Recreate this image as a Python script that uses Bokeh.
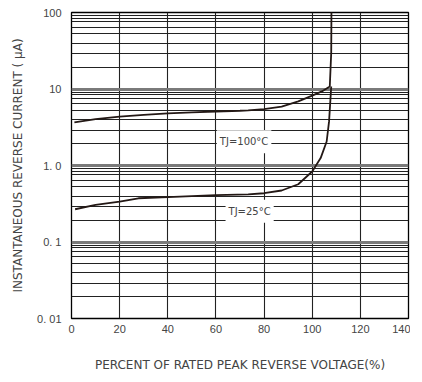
from bokeh.plotting import figure
from bokeh.models import FixedTicker, Label
from bokeh.embed import file_html
from bokeh.resources import INLINE

# ---- data ----
x_100 = [1.2, 10, 20, 30, 40, 50, 60, 70, 73.4, 80, 87.3, 94.2, 100, 104, 107.3, 107.9, 108.0]
y_100 = [3.66, 4.05, 4.35, 4.6, 4.8, 4.95, 5.08, 5.2, 5.25, 5.46, 5.9, 6.9, 8.2, 9.3, 10.8, 30, 120]

x_25 = [1.5, 10, 20, 27.8, 40, 60, 73.4, 80, 87.3, 94.2, 100, 103.5, 106, 107, 107.6, 107.9]
y_25 = [0.268, 0.305, 0.338, 0.373, 0.385, 0.41, 0.42, 0.434, 0.471, 0.569, 0.834, 1.25, 2.06, 3.77, 7.6, 10.8]

x_ticks = [0, 20, 40, 60, 80, 100, 120, 140]
y_decades = [0.01, 0.1, 1, 10, 100]
y_tick_labels = ["0. 01", "0. 1", "1. 0", "10", "100"]
grid_multipliers = [1.92, 2.89, 3.99, 5.24, 6.46, 7.52, 8.47, 9.08]

label_100 = ("TJ=100°C", 71.7, 2.05)
label_25 = ("TJ=25°C", 74.0, 0.252)

x_title = "PERCENT OF RATED PEAK REVERSE VOLTAGE(%)"
y_title = "INSTANTANEOUS REVERSE CURRENT ( μA)"

# ---- figure ----
p = figure(width=410, height=376, x_range=(0, 140), y_range=(0.01, 100),
           y_axis_type="log", output_backend="svg", toolbar_location=None,
           min_border_left=71, min_border_right=2, min_border_top=12, min_border_bottom=58)

p.outline_line_color = "black"
p.outline_line_width = 1.3
p.background_fill_color = "white"
p.border_fill_color = "white"

minor = [d * m for d in y_decades[:-1] for m in grid_multipliers]
yt = FixedTicker(ticks=y_decades, minor_ticks=minor)
p.yaxis.ticker = yt
p.ygrid.ticker = yt
p.ygrid.grid_line_color = "#7a7a7a"
p.ygrid.grid_line_width = 3
p.ygrid.minor_grid_line_color = "#222222"
p.ygrid.minor_grid_line_width = 1.1

xt = FixedTicker(ticks=x_ticks)
p.xaxis.ticker = xt
p.xgrid.ticker = xt
p.xgrid.grid_line_color = "#222222"
p.xgrid.grid_line_width = 1.1

p.yaxis.major_label_overrides = {v: s for v, s in zip(y_decades, y_tick_labels)}

for ax in (p.xaxis[0], p.yaxis[0]):
    ax.axis_line_color = None
    ax.major_tick_line_color = None
    ax.minor_tick_line_color = None
    ax.major_tick_out = 0
    ax.major_tick_in = 0
    ax.minor_tick_out = 0
    ax.major_label_text_font = "Liberation Sans"
    ax.major_label_text_font_size = "11px"
    ax.major_label_text_color = "#444444"
    ax.axis_label_text_font = "DejaVu Sans"
    ax.axis_label_text_font_size = "12px"
    ax.axis_label_text_font_style = "normal"
    ax.axis_label_text_color = "#444444"

p.yaxis.major_label_standoff = 10
p.yaxis.axis_label = y_title
p.yaxis.axis_label_standoff = 9
p.xaxis.major_label_standoff = 6
p.xaxis.axis_label = x_title
p.xaxis.axis_label_standoff = 22

p.line(x_100, y_100, line_color="#231815", line_width=1.8)
p.line(x_25, y_25, line_color="#231815", line_width=1.8)

for txt, lx, ly in (label_100, label_25):
    p.add_layout(Label(x=lx, y=ly, text=txt, text_align="center", text_baseline="middle",
                       text_font="DejaVu Sans", text_font_size="10px", text_color="#444444",
                       background_fill_color="white", padding=(3, 6)))

open("out.html", "w").write(file_html(p, INLINE))
